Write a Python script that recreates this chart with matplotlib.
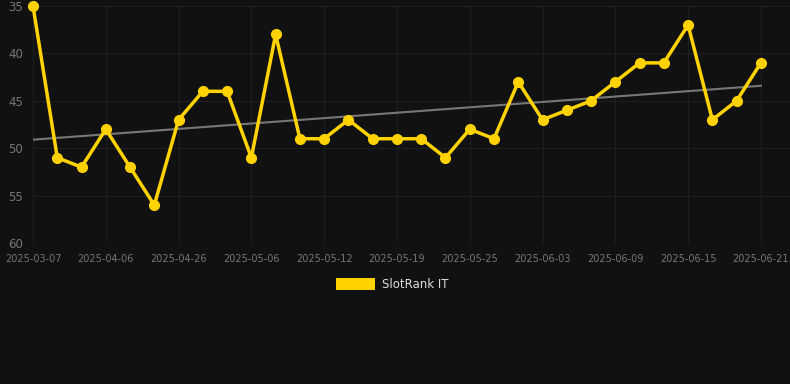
import matplotlib
matplotlib.use("Agg")
import matplotlib.pyplot as plt
import numpy as np
from matplotlib.patches import Rectangle

dates = ["2025-03-07", "2025-03-17", "2025-03-27", "2025-04-06", "2025-04-12", "2025-04-19",
         "2025-04-26", "2025-04-29", "2025-05-02", "2025-05-06", "2025-05-08", "2025-05-10",
         "2025-05-12", "2025-05-14", "2025-05-16", "2025-05-19", "2025-05-21", "2025-05-23",
         "2025-05-25", "2025-05-28", "2025-05-31", "2025-06-03", "2025-06-05", "2025-06-07",
         "2025-06-09", "2025-06-11", "2025-06-13", "2025-06-15", "2025-06-17", "2025-06-19",
         "2025-06-21"]
ranks = [35, 51, 52, 48, 52, 56, 47, 44, 44, 51, 38, 49, 49, 47, 49, 49, 49, 51, 48, 49,
         43, 47, 46, 45, 43, 41, 41, 37, 47, 45, 41]
series_name = "SlotRank IT"
yticks = [35, 40, 45, 50, 55, 60]

bg = "#111111"
fig = plt.figure(figsize=(7.9, 3.84), dpi=100, facecolor=bg)
ax = fig.add_axes([33/790, 1-243/384, 1-33/790, (243-6)/384])
ax.set_facecolor(bg)

x = np.arange(len(ranks))
coef = np.polyfit(x, ranks, 1)
ax.plot(x, np.polyval(coef, x), color="#777777", lw=1.5, zorder=2)
ax.plot(x, ranks, color="#FFD200", lw=2.5, marker="o", ms=7, zorder=3, clip_on=False)

ax.set_ylim(60, 35)
ax.set_xlim(0, 31.2)
ax.set_yticks(yticks)
ax.set_xticks(x[::3])
ax.set_xticklabels(dates[::3])
ax.grid(True, color="#1f1f1f", lw=0.8, zorder=0)
for s in ax.spines.values():
    s.set_visible(False)
ax.tick_params(axis="both", length=0, colors="#777777")
ax.tick_params(axis="y", labelsize=8.5, pad=7)
ax.tick_params(axis="x", labelsize=7, pad=8)

fig.patches.append(Rectangle((336/790, 1-290/384), 39/790, 12/384, transform=fig.transFigure,
                             facecolor="#FFD200", edgecolor="none"))
fig.text(382/790, 1-285/384, series_name, color="#dddddd", fontsize=8.5, va="center", ha="left")

fig.savefig("out.png", dpi=100, facecolor=bg)
